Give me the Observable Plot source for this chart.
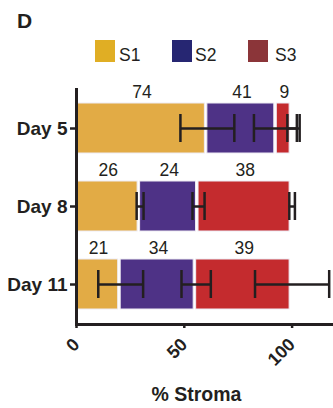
<!DOCTYPE html>
<html>
<head>
<meta charset="utf-8">
<script src="https://cdn.jsdelivr.net/npm/d3@7"></script>
<script src="https://cdn.jsdelivr.net/npm/@observablehq/plot@0.6"></script>
<style>
  html, body { margin: 0; padding: 0; background: #fff; }
  #wrap { position: relative; width: 333px; height: 408px; font-family: "Liberation Sans", Arial, sans-serif; color: #231f20; overflow: hidden; }
  .abs { position: absolute; line-height: 1; white-space: nowrap; }
  #panel { left: 17px; top: 10px; font-size: 21px; font-weight: bold; }
  .sw { position: absolute; top: 40px; width: 20px; height: 22px; }
  .lt { position: absolute; top: 47px; font-size: 17.5px; line-height: 1; }
  #chart { position: absolute; left: 0; top: 80px; }
  #xlabel { position: absolute; top: 385px; left: 0; width: 393px; text-align: center; font-size: 19.5px; font-weight: bold; line-height: 1; }
</style>
</head>
<body>
<div id="wrap">
  <div id="panel" class="abs">D</div>
  <div id="legend"></div>
  <div id="chart"></div>
  <div id="xlabel">% Stroma</div>
</div>
<script>
// ---- data ----
const days = ["Day 5", "Day 8", "Day 11"];
const series = ["S1", "S2", "S3"];
const s1Pct = [60.7, 29.5, 20.5];
const s2Pct = [32.2, 27.1, 35.0];
const s3Pct = [7.1, 43.4, 44.5];
const s1Err = [12.5, 1.6, 10.4];
const s2Err = [10.6, 2.8, 6.8];
const s3Err = [2.2, 1.3, 17.2];
const s1N = [74, 26, 21];
const s2N = [41, 24, 34];
const s3N = [9, 38, 39];
const xTicks = [0, 50, 100];
const barColors = ["#E2AB45", "#4E3286", "#C42B2E"];
const legendColors = ["#E0AE24", "#262672", "#8B3539"];

// ---- build table ----
const pcts = [s1Pct, s2Pct, s3Pct];
const errs = [s1Err, s2Err, s3Err];
const ns = [s1N, s2N, s3N];
const rows = [];
days.forEach((day, i) => {
  let acc = 0;
  series.forEach((s, j) => {
    const v = pcts[j][i];
    rows.push({day, series: s, x1: acc, x2: acc + v, mid: acc + v / 2,
               lo: acc + v - errs[j][i], hi: acc + v + errs[j][i], n: ns[j][i]});
    acc += v;
  });
});
const caps = rows.flatMap(r => [{day: r.day, x: r.lo}, {day: r.day, x: r.hi}]);

// ---- legend (HTML above the svg) ----
const legendPos = [[95, 119], [172, 195], [248, 275]];
const legend = document.getElementById("legend");
series.forEach((s, j) => {
  const sw = document.createElement("div");
  sw.className = "sw";
  sw.style.left = legendPos[j][0] + "px";
  sw.style.background = legendColors[j];
  legend.appendChild(sw);
  const t = document.createElement("div");
  t.className = "lt";
  t.style.left = legendPos[j][1] + "px";
  t.textContent = s;
  legend.appendChild(t);
});

const ink = "#231f20";
const chart = Plot.plot({
  width: 333,
  height: 300,
  marginTop: 8,
  marginBottom: 56,
  marginLeft: 76,
  marginRight: 0,
  style: {fontFamily: "'Liberation Sans', Arial, sans-serif", color: ink, background: "transparent", overflow: "visible"},
  x: {domain: [0, 119.2]},
  y: {domain: days, paddingInner: 0.363, paddingOuter: 0.18},
  color: {domain: series, range: barColors},
  marks: [
    Plot.barX(rows, {x1: "x1", x2: "x2", y: "day", fill: "series", insetRight: 2.5, stroke: "#eeebf4", strokeWidth: 1}),
    Plot.ruleY(rows, {y: "day", x1: "lo", x2: "hi", stroke: ink, strokeWidth: 2.5}),
    Plot.tickX(caps, {x: "x", y: "day", insetTop: 11, insetBottom: 11, stroke: ink, strokeWidth: 2.5}),
    Plot.text(rows, {x: "mid", y: "day", text: "n", dy: -36, fontSize: 17.5, fill: ink}),
    Plot.axisY({tickSize: 6, tickPadding: 3, fontSize: 19, fontWeight: "bold", strokeWidth: 2.5, label: null}),
    Plot.axisX({ticks: xTicks, tickRotate: -45, tickSize: 4, tickPadding: 13, fontSize: 18, fontWeight: "bold", strokeWidth: 2.5, label: null}),
    Plot.ruleX([0], {stroke: ink, strokeWidth: 3}),
    Plot.frame({anchor: "bottom", stroke: ink, strokeWidth: 3})
  ]
});
document.getElementById("chart").appendChild(chart);
</script>
</body>
</html>
